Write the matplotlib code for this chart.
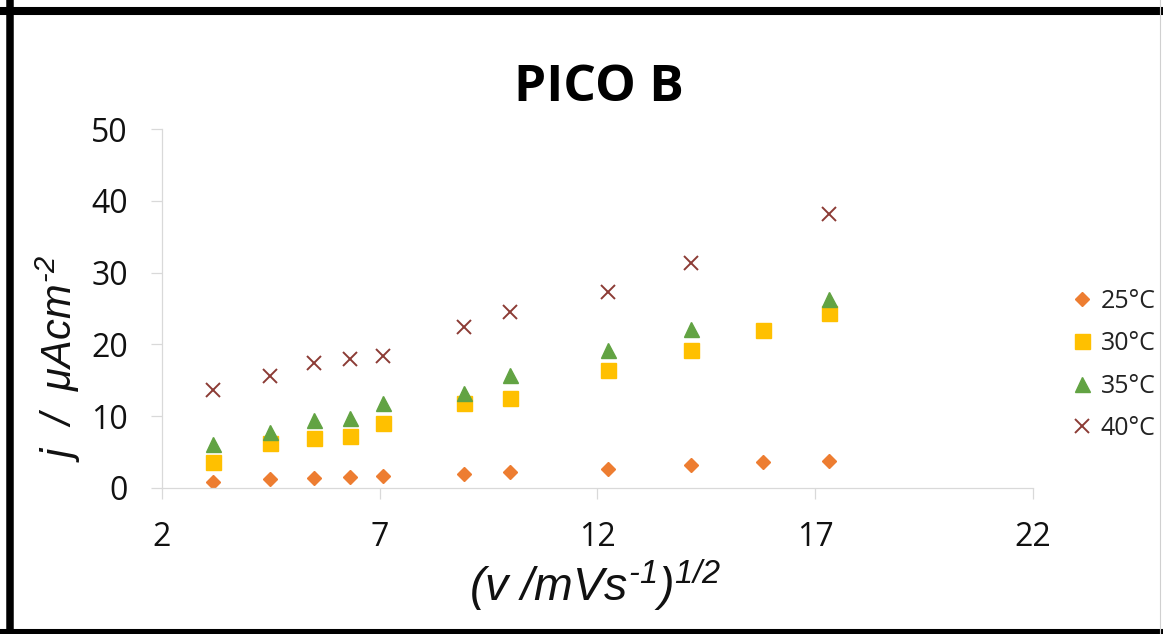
import numpy as np
import matplotlib
matplotlib.use("Agg")
import matplotlib.pyplot as plt
from matplotlib.lines import Line2D

plt.rcParams['font.family'] = ['Open Sans', 'DejaVu Sans']
plt.rcParams['mathtext.fontset'] = 'custom'
plt.rcParams['mathtext.it'] = 'Liberation Sans:italic'
plt.rcParams['mathtext.rm'] = 'Liberation Sans:italic'
plt.rcParams['mathtext.default'] = 'it'

# sqrt of scan rate
x = [3.16, 4.47, 5.48, 6.32, 7.07, 8.94, 10.0, 12.25, 14.14, 15.81, 17.32]
j25 = [0.9, 1.2, 1.4, 1.6, 1.7, 2.0, 2.2, 2.7, 3.2, 3.6, 3.8]
j30 = [3.6, 6.2, 7.0, 7.3, 9.0, 11.9, 12.6, 16.4, 19.2, 22.0, 24.4]
j35 = [6.1, 7.85, 9.5, 9.8, 11.8, 13.3, 15.8, 19.2, 22.1, np.nan, 26.3]
j40 = [13.7, 15.6, 17.4, 18.0, 18.4, 22.4, 24.5, 27.3, 31.4, np.nan, 38.2]
labels = ['25°C', '30°C', '35°C', '40°C']
xticks = [2, 7, 12, 17, 22]
yticks = [0, 10, 20, 30, 40, 50]

fig = plt.figure(figsize=(11.63, 6.34), dpi=100)
ax = fig.add_axes([0.1393, 0.2303, 0.7489, 0.5662])

ax.plot(x, j25, ls='none', marker='D', ms=6.8, color='#ED7D31', mec='#ED7D31', label=labels[0])
ax.plot(x, j30, ls='none', marker='s', ms=10.8, color='#FFC000', mec='#FFC000', label=labels[1])
ax.plot(x, j35, ls='none', marker='^', ms=10.8, color='#62a343', mec='#62a343', label=labels[2])
ax.plot(x, j40, ls='none', marker='x', ms=9.4, mew=1.4, color='#8c3b35', label=labels[3])

ax.set_xlim(2, 22)
ax.set_ylim(0, 50)
ax.set_xticks(xticks)
ax.set_yticks(yticks)
for s in ['top', 'right']:
    ax.spines[s].set_visible(False)
for s in ['left', 'bottom']:
    ax.spines[s].set_color('#d9d9d9')
    ax.spines[s].set_linewidth(0.9)
ax.tick_params(axis='both', direction='out', length=8, width=0.9, color='#d9d9d9',
               labelsize=23, labelcolor='#111111')
ax.tick_params(axis='y', pad=16.5)
ax.tick_params(axis='x', pad=16)

leg = ax.legend(loc='center left', bbox_to_anchor=(0.9196, 0.4243),
                bbox_transform=fig.transFigure, frameon=False, fontsize=18,
                handlelength=1.0, handletextpad=0.25, labelspacing=0.7,
                borderpad=0, borderaxespad=0)
for t in leg.get_texts():
    t.set_color('#222222')

fig.text(0.515, 0.861, 'PICO B', fontsize=37, fontweight='bold', ha='center', va='center')
fig.text(0.5116, 0.052, r'$(v\ /mVs^{‐1})^{1/2}$', fontsize=33.5, ha='center',
         va='baseline', color='#111111')
fig.text(0.0499, 0.4353, r'$j\ \ /\ \ \mu Acm^{‐2}$', fontsize=30, rotation=90,
         ha='center', va='center', color='#111111')

# black frame round the picture
fig.add_artist(Line2D([0.0090, 0.0090], [0, 1], transform=fig.transFigure, color='black', lw=5.4))
fig.add_artist(Line2D([0, 1], [1 - 11 / 634, 1 - 11 / 634], transform=fig.transFigure, color='black', lw=5.8))
fig.add_artist(Line2D([0, 1], [1 - 633 / 634, 1 - 633 / 634], transform=fig.transFigure, color='black', lw=5.8))
fig.add_artist(Line2D([0.9976, 0.9976], [0, 1], transform=fig.transFigure, color='#d0d0d0', lw=0.8))

fig.savefig('out.png', dpi=100)
